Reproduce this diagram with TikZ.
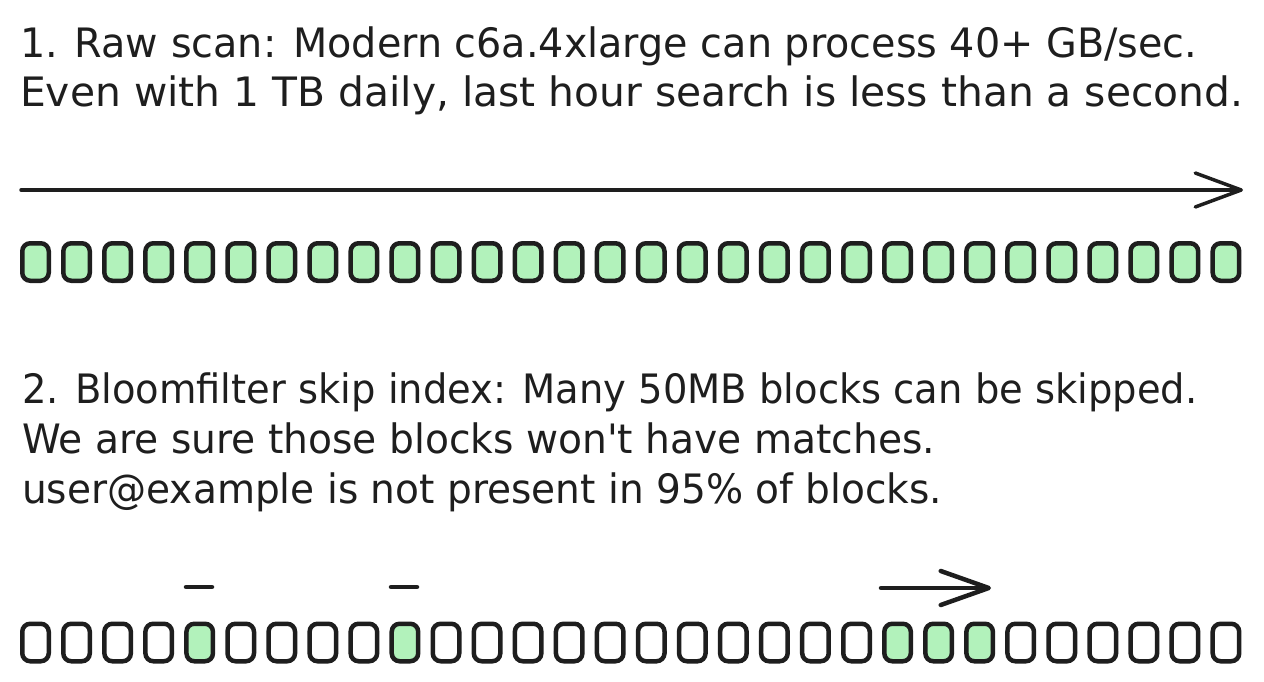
\documentclass[tikz,border=0pt]{standalone}
\usepackage{fontspec}
\setmainfont{DejaVu Sans}
\usetikzlibrary{arrows.meta}
\definecolor{ink}{HTML}{1E1E1E}
\definecolor{blk}{HTML}{B2F2BB}
\newcommand{\fitline}[2]{\resizebox{#1}{\height}{#2}}
\newcommand{\straightapos}{\XeTeXglyph\number\XeTeXcharglyph"27\relax}
\begin{document}
\begin{tikzpicture}[x=1pt,y=-1pt,
  txt/.style={anchor=base west, inner sep=0pt, font=\fontsize{40.5}{50}\selectfont, text=ink},
  blockon/.style={draw=ink, fill=blk, line width=4.5pt, rounded corners=8pt,
    minimum width=26.5pt, minimum height=37.5pt, inner sep=0pt},
  blockoff/.style={blockon, fill=white},
  flow/.style={draw=ink, line width=3.5pt, line cap=round,
    -{Straight Barb[length=46pt,width=34pt,round]}},
  bigflow/.style={draw=ink, line width=4.5pt, line cap=round,
    -{Straight Barb[length=48pt,width=34pt,round]}},
  skipmark/.style={draw=ink, line width=4.5pt, line cap=round},
]
\useasboundingbox (0,0) rectangle (1264,682);

% texts
\node[txt] (t1) at (20,58) {\fitline{1177pt}{1. Raw scan: Modern c6a.4xlarge can process 40+ GB/sec.}};
\node[txt] (t2) at (20,107) {\fitline{1223pt}{Even with 1 TB daily, last hour search is less than a second.}};
\node[txt] (t3) at (22,403) {\fitline{1175pt}{2. Bloomfilter skip index: Many 50MB blocks can be skipped.}};
\node[txt] (t4) at (22,453) {\fitline{913pt}{We are sure those blocks won\straightapos t have matches.}};
\node[txt] (t5) at (22,503) {\fitline{920pt}{user@example is not present in 95\% of blocks.}};

% raw scan arrow
\coordinate (s1) at (21,190);
\coordinate (e1) at (1243,190);
\draw[flow] (s1) -- (e1);

% top row: all blocks scanned
\foreach \k in {0,...,29} {
  \node[blockon] (a\k) at ({35.5+41.05*\k},262) {};
}

% bottom row: only some blocks scanned
\foreach \k in {0,...,29} {
  \pgfmathtruncatemacro\g{or(or(\k==4,\k==9),and(\k>=21,\k<=23))}
  \ifnum\g=1
    \node[blockon] (b\k) at ({35.5+41.05*\k},642.5) {};
  \else
    \node[blockoff] (b\k) at ({35.5+41.05*\k},642.5) {};
  \fi
}

% single-block marks
\coordinate (m1a) at (186,587);
\coordinate (m1b) at (212,587);
\coordinate (m2a) at (391,587);
\coordinate (m2b) at (417,587);
\draw[skipmark] (m1a) -- (m1b);
\draw[skipmark] (m2a) -- (m2b);

% scan arrow over contiguous blocks
\coordinate (s2) at (881,588);
\coordinate (e2) at (991,588);
\draw[bigflow] (s2) -- (e2);
\end{tikzpicture}
\end{document}
